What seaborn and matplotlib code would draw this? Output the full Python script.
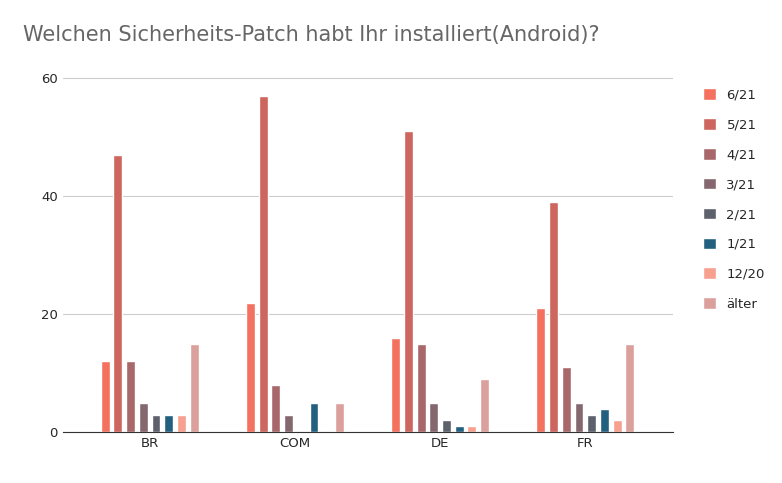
import matplotlib
matplotlib.use("Agg")
import matplotlib.pyplot as plt
import seaborn as sns
import pandas as pd

regions = ["BR", "COM", "DE", "FR"]
patches = ["6/21", "5/21", "4/21", "3/21", "2/21", "1/21", "12/20", "älter"]
values = {
    "6/21": [12, 22, 16, 21],
    "5/21": [47, 57, 51, 39],
    "4/21": [12, 8, 15, 11],
    "3/21": [5, 3, 5, 5],
    "2/21": [3, 0, 2, 3],
    "1/21": [3, 5, 1, 4],
    "12/20": [3, 0, 1, 2],
    "älter": [15, 5, 9, 15],
}
colors = ["#f4715f", "#cd665e", "#a8686b", "#85686f", "#5d616b", "#23607f", "#f7a090", "#dba09c"]

rows = [(r, p, values[p][i]) for p in patches for i, r in enumerate(regions)]
df = pd.DataFrame(rows, columns=["region", "patch", "count"])

sns.set_style("white")
fig, ax = plt.subplots(figsize=(7.82, 4.83), dpi=100)
sns.barplot(data=df, x="region", y="count", hue="patch", hue_order=patches,
            palette=colors, ax=ax, width=0.7, gap=0.3, saturation=1)

ax.set_ylim(0, 61)
ax.set_yticks([0, 20, 40, 60])
ax.yaxis.grid(True, color="#cccccc", linewidth=0.8)
ax.set_axisbelow(True)
for s in ["top", "right", "left"]:
    ax.spines[s].set_visible(False)
ax.spines["bottom"].set_color("#333333")
ax.set_xlabel("")
ax.set_ylabel("")
ax.tick_params(axis="both", length=0, labelsize=9.5)
ax.set_xlim(-0.6, 3.6)
ax.legend(loc="upper left", bbox_to_anchor=(1.03, 0.99), frameon=False,
          fontsize=9.5, handlelength=1, handleheight=1, labelspacing=1.25)
fig.text(0.03, 0.915, "Welchen Sicherheits-Patch habt Ihr installiert(Android)?",
         fontsize=15, color="#666666")
fig.subplots_adjust(left=0.08, right=0.86, top=0.85, bottom=0.105)
fig.savefig("out.png", dpi=100)
